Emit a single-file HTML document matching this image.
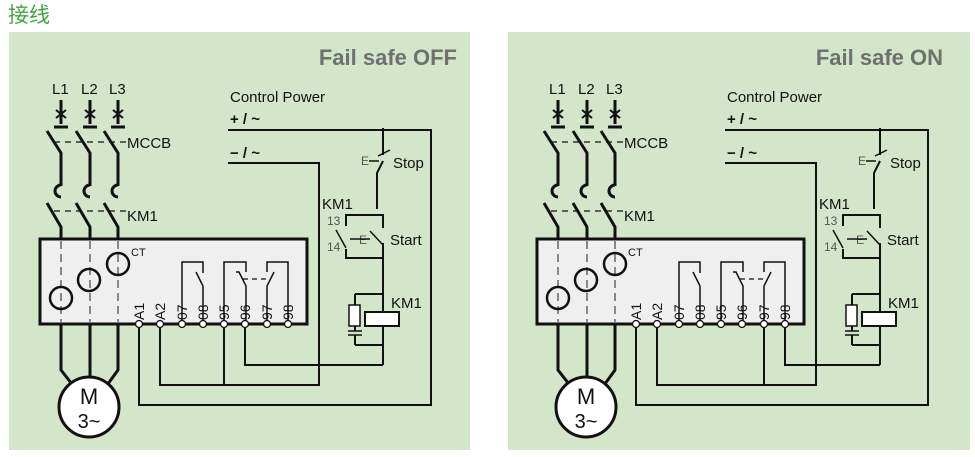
<!DOCTYPE html>
<html><head><meta charset="utf-8"><style>
html,body{margin:0;padding:0;background:#fff;width:975px;height:457px;overflow:hidden}
svg{display:block}
text{font-family:"Liberation Sans","Noto Sans CJK SC",sans-serif}
</style></head><body>
<svg width="975" height="457" viewBox="0 0 975 457" xmlns="http://www.w3.org/2000/svg">
<text x="8" y="22" font-size="21" fill="#3ea83e">接线</text>
<rect x="9" y="32" width="461" height="418" fill="#d3e6c9"/>
<rect x="508" y="32" width="462" height="418" fill="#d3e6c9"/>

<g id="L">
<text x="457" y="65" font-size="22" font-weight="bold" fill="#707070" text-anchor="end">Fail safe OFF</text>
<g font-size="15" fill="#111">
<text x="52" y="94">L1</text><text x="81" y="94">L2</text><text x="109" y="94">L3</text>
<text x="127" y="148">MCCB</text><text x="127" y="221">KM1</text>
<text x="230" y="102">Control Power</text>
<text x="230" y="124" font-weight="bold">+ / ~</text><text x="230" y="158" font-weight="bold">− / ~</text>
<text x="393" y="168">Stop</text><text x="390" y="245">Start</text>
<text x="322" y="209">KM1</text><text x="391" y="308">KM1</text>
</g>
<g font-size="12" fill="#555"><text x="361" y="165">E</text><text x="359" y="244">E</text><text x="327" y="225">13</text><text x="327" y="251">14</text></g>
<g stroke="#111" stroke-width="3" fill="none">
<path d="M61,100V124M90,100V124M118,100V124"/>
<path d="M54,127H68M83,127H97M111,127H125"/>
<path d="M56,110L66,118M66,110L56,118M85,110L95,118M95,110L85,118M113,110L123,118M123,110L113,118" stroke-width="2"/>
<path d="M47,131L61,153V186M76,131L90,153V186M104,131L118,153V186"/>
<path d="M61,185a6,6 0 0 0 0,12M90,185a6,6 0 0 0 0,12M118,185a6,6 0 0 0 0,12"/>
<path d="M47,203L61,227V240M76,203L90,227V240M104,203L118,227V240"/>
<path d="M61,324V370L75,388M90,324V380M118,324V370L105,388"/>
</g>
<path d="M54,142H126M54,211H126" stroke="#111" stroke-width="1.2" stroke-dasharray="6,5"/>
<rect x="40" y="239" width="267" height="85" fill="#efefef" stroke="#111" stroke-width="3"/>
<text x="131" y="256" font-size="11" fill="#111">CT</text>
<path d="M61,241V322M90,241V322M118,241V322" stroke="#888" stroke-width="2" stroke-dasharray="8,5"/>
<g stroke="#111" stroke-width="2.5" fill="none"><circle cx="61" cy="298" r="11"/><circle cx="89" cy="280" r="11"/><circle cx="118" cy="264" r="11"/></g>
<circle cx="89" cy="407" r="30" fill="#fff" stroke="#111" stroke-width="3"/>
<text x="89" y="404" font-size="22" text-anchor="middle" fill="#111">M</text>
<text x="89" y="428" font-size="20" text-anchor="middle" fill="#111">3~</text>
<g stroke="#111" stroke-width="1.5" fill="none">
<path d="M182,322V262H203V273M196,272L203,286M203,286V322"/>
<path d="M224,322V262H246V272M236,272H239L246,286V322"/>
<path d="M267,322V286L274,272M288,322V262H267V272"/>
</g>
<path d="M243,279H269" stroke="#111" stroke-width="1.2" stroke-dasharray="5,4"/>
<g font-size="14" fill="#111">
<text transform="translate(144,320) rotate(-90)">A1</text><text transform="translate(165,320) rotate(-90)">A2</text>
<text transform="translate(187,320) rotate(-90)">07</text><text transform="translate(208,320) rotate(-90)">08</text>
<text transform="translate(229,320) rotate(-90)">95</text><text transform="translate(250,320) rotate(-90)">96</text>
<text transform="translate(272,320) rotate(-90)">97</text><text transform="translate(293,320) rotate(-90)">98</text>
</g>
<g fill="#fff" stroke="#111" stroke-width="1.3">
<circle cx="139" cy="324" r="3.5"/><circle cx="160" cy="324" r="3.5"/><circle cx="182" cy="324" r="3.5"/><circle cx="203" cy="324" r="3.5"/><circle cx="224" cy="324" r="3.5"/><circle cx="245" cy="324" r="3.5"/><circle cx="267" cy="324" r="3.5"/><circle cx="288" cy="324" r="3.5"/>
</g>
<g stroke="#111" stroke-width="2" fill="none">
<path d="M228,130H431V405H139V328"/>
<path d="M228,163H319V385H160V328"/>
<path d="M383,128V155M383,161L377,173V209"/>
<path d="M346,226V215H383V228M383,243V258H346V249"/>
<path d="M383,258V365"/>
<path d="M355,294H383M355,345H383M355,294V305M355,326V331M355,335V345"/>
<path d="M224,328V385M245,328V365H383"/>
</g>
<path d="M369,161H379M350,239H370" stroke="#111" stroke-width="1.5"/>
<path d="M378,156L390,150M370,231L383,245M336,230L346,248" stroke="#111" stroke-width="1.5"/>
<rect x="349" y="305" width="11" height="21" fill="#fff" stroke="#111" stroke-width="1.5"/>
<path d="M348,331H362M348,335H362" stroke="#111" stroke-width="1.5"/>
<rect x="365" y="312" width="34" height="14" fill="#fff" stroke="#111" stroke-width="2"/>
</g>

<g transform="translate(497,0)">
<text x="446" y="65" font-size="22" font-weight="bold" fill="#707070" text-anchor="end">Fail safe ON</text>
<g font-size="15" fill="#111">
<text x="52" y="94">L1</text><text x="81" y="94">L2</text><text x="109" y="94">L3</text>
<text x="127" y="148">MCCB</text><text x="127" y="221">KM1</text>
<text x="230" y="102">Control Power</text>
<text x="230" y="124" font-weight="bold">+ / ~</text><text x="230" y="158" font-weight="bold">− / ~</text>
<text x="393" y="168">Stop</text><text x="390" y="245">Start</text>
<text x="322" y="209">KM1</text><text x="391" y="308">KM1</text>
</g>
<g font-size="12" fill="#555"><text x="361" y="165">E</text><text x="359" y="244">E</text><text x="327" y="225">13</text><text x="327" y="251">14</text></g>
<g stroke="#111" stroke-width="3" fill="none">
<path d="M61,100V124M90,100V124M118,100V124"/>
<path d="M54,127H68M83,127H97M111,127H125"/>
<path d="M56,110L66,118M66,110L56,118M85,110L95,118M95,110L85,118M113,110L123,118M123,110L113,118" stroke-width="2"/>
<path d="M47,131L61,153V186M76,131L90,153V186M104,131L118,153V186"/>
<path d="M61,185a6,6 0 0 0 0,12M90,185a6,6 0 0 0 0,12M118,185a6,6 0 0 0 0,12"/>
<path d="M47,203L61,227V240M76,203L90,227V240M104,203L118,227V240"/>
<path d="M61,324V370L75,388M90,324V380M118,324V370L105,388"/>
</g>
<path d="M54,142H126M54,211H126" stroke="#111" stroke-width="1.2" stroke-dasharray="6,5"/>
<rect x="40" y="239" width="267" height="85" fill="#efefef" stroke="#111" stroke-width="3"/>
<text x="131" y="256" font-size="11" fill="#111">CT</text>
<path d="M61,241V322M90,241V322M118,241V322" stroke="#888" stroke-width="2" stroke-dasharray="8,5"/>
<g stroke="#111" stroke-width="2.5" fill="none"><circle cx="61" cy="298" r="11"/><circle cx="89" cy="280" r="11"/><circle cx="118" cy="264" r="11"/></g>
<circle cx="89" cy="407" r="30" fill="#fff" stroke="#111" stroke-width="3"/>
<text x="89" y="404" font-size="22" text-anchor="middle" fill="#111">M</text>
<text x="89" y="428" font-size="20" text-anchor="middle" fill="#111">3~</text>
<g stroke="#111" stroke-width="1.5" fill="none">
<path d="M182,322V262H203V273M196,272L203,286M203,286V322"/>
<path d="M224,322V262H246V272M236,272H239L246,286V322"/>
<path d="M267,322V286L274,272M288,322V262H267V272"/>
</g>
<path d="M243,279H269" stroke="#111" stroke-width="1.2" stroke-dasharray="5,4"/>
<g font-size="14" fill="#111">
<text transform="translate(144,320) rotate(-90)">A1</text><text transform="translate(165,320) rotate(-90)">A2</text>
<text transform="translate(187,320) rotate(-90)">07</text><text transform="translate(208,320) rotate(-90)">08</text>
<text transform="translate(229,320) rotate(-90)">95</text><text transform="translate(250,320) rotate(-90)">96</text>
<text transform="translate(272,320) rotate(-90)">97</text><text transform="translate(293,320) rotate(-90)">98</text>
</g>
<g fill="#fff" stroke="#111" stroke-width="1.3">
<circle cx="139" cy="324" r="3.5"/><circle cx="160" cy="324" r="3.5"/><circle cx="182" cy="324" r="3.5"/><circle cx="203" cy="324" r="3.5"/><circle cx="224" cy="324" r="3.5"/><circle cx="245" cy="324" r="3.5"/><circle cx="267" cy="324" r="3.5"/><circle cx="288" cy="324" r="3.5"/>
</g>
<g stroke="#111" stroke-width="2" fill="none">
<path d="M228,130H431V405H139V328"/>
<path d="M228,163H319V385H160V328"/>
<path d="M383,128V155M383,161L377,173V209"/>
<path d="M346,226V215H383V228M383,243V258H346V249"/>
<path d="M383,258V365"/>
<path d="M355,294H383M355,345H383M355,294V305M355,326V331M355,335V345"/>
<path d="M267,328V385M288,328V365H383"/>
</g>
<path d="M369,161H379M350,239H370" stroke="#111" stroke-width="1.5"/>
<path d="M378,156L390,150M370,231L383,245M336,230L346,248" stroke="#111" stroke-width="1.5"/>
<rect x="349" y="305" width="11" height="21" fill="#fff" stroke="#111" stroke-width="1.5"/>
<path d="M348,331H362M348,335H362" stroke="#111" stroke-width="1.5"/>
<rect x="365" y="312" width="34" height="14" fill="#fff" stroke="#111" stroke-width="2"/>
</g>
</svg>
</body></html>
